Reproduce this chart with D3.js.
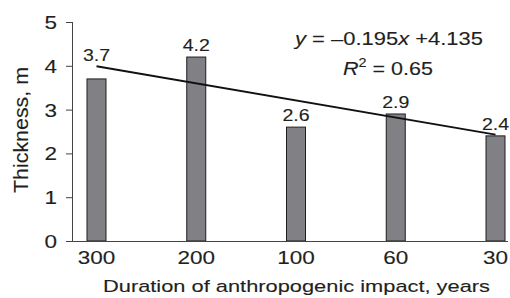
<!DOCTYPE html>
<html><head><meta charset="utf-8">
<script src="https://cdn.jsdelivr.net/npm/d3@7/dist/d3.min.js"></script>
<style>
html,body{margin:0;padding:0;background:#fff;}
svg{display:block;font-family:"Liberation Sans",Arial,Helvetica,sans-serif;}
svg text{stroke:#231f20;stroke-width:0.12px;}
</style></head>
<body><svg id="c" width="510" height="298"></svg>
<script>
const categories = ["300", "200", "100", "60", "30"];
const thickness = [3.7, 4.2, 2.6, 2.9, 2.4];
const valueLabels = ["3.7", "4.2", "2.6", "2.9", "2.4"];
const yTicks = [0, 1, 2, 3, 4, 5];
const trendValues = [3.99, 2.43]; // regression line at first and last category
const xTitle = "Duration of anthropogenic impact, years";
const yTitle = "Thickness, m";

const svg = d3.select("#c");
const ink = "#231f20";
const x = d3.scalePoint().domain(categories).range([96.5, 495.5]);
const y = d3.scaleLinear().domain([0, 5]).range([241, 22]);
const barW = 19;

function stretch(sel, factor) {
  sel.each(function () {
    const w = this.getComputedTextLength();
    d3.select(this).attr("textLength", w * factor).attr("lengthAdjust", "spacingAndGlyphs");
  });
}
function fitTo(sel, len) {
  sel.attr("textLength", len).attr("lengthAdjust", "spacingAndGlyphs");
}

// Y axis
const yAxis = svg.append("g").attr("transform", "translate(72,0)")
  .call(d3.axisLeft(y).tickValues(yTicks).tickSize(6).tickPadding(9).tickFormat(d3.format("d")));
yAxis.select(".domain").attr("stroke", "#444").attr("stroke-width", 1).attr("d", "M0.5," + y(5) + "V" + y(0));
yAxis.selectAll(".tick line").attr("stroke", "#444").attr("x1", 0.5).attr("x2", -6);
yAxis.selectAll(".tick text").attr("font-size", 18).attr("fill", ink)
  .attr("font-family", "Liberation Sans, Arial, sans-serif").attr("dy", "0.36em");
stretch(yAxis.selectAll(".tick text"), 1.25);

// Bars
svg.append("g").selectAll("rect").data(thickness).join("rect")
  .attr("x", (d, i) => x(categories[i]) - barW / 2)
  .attr("y", d => y(d))
  .attr("width", barW)
  .attr("height", d => y(0) - y(d))
  .attr("fill", "#808085")
  .attr("stroke", "#1e1e1e")
  .attr("stroke-width", 1);

// X axis baseline
svg.append("line").attr("x1", 72).attr("x2", 508).attr("y1", y(0) + 0.5).attr("y2", y(0) + 0.5)
  .attr("stroke", "#444").attr("stroke-width", 1);

// X tick labels
const xl = svg.append("g").selectAll("text").data(categories).join("text")
  .attr("x", d => x(d)).attr("y", 263.5).attr("text-anchor", "middle")
  .attr("font-size", 18).attr("fill", ink).text(d => d);
stretch(xl, 1.25);

// Trend line
const trendPts = [[categories[0], trendValues[0]], [categories[categories.length - 1], trendValues[1]]];
svg.append("path").datum(trendPts)
  .attr("d", d3.line().x(d => x(d[0])).y(d => y(d[1])))
  .attr("stroke", "#111").attr("stroke-width", 1.8).attr("fill", "none");

// Value labels: above the bar, unless the trend line is too close above the bar
const trendAt = i => y(trendValues[0] + (trendValues[1] - trendValues[0]) * i / (categories.length - 1));
const labelY = (d, i) => {
  const top = y(d), line = trendAt(i);
  if (top > line && top - line < 18) return line - 5;
  return top - 6;
};
const vl = svg.append("g").selectAll("text").data(thickness).join("text")
  .attr("x", (d, i) => x(categories[i]))
  .attr("y", labelY)
  .attr("text-anchor", "middle").attr("font-size", 17).attr("fill", ink)
  .text((d, i) => valueLabels[i]);
stretch(vl, 1.15);

// Equation
const eq = svg.append("text").attr("x", 295).attr("y", 44.5).attr("font-size", 18).attr("fill", ink);
eq.append("tspan").attr("font-style", "italic").text("y");
eq.append("tspan").text(" = –0.195");
eq.append("tspan").attr("font-style", "italic").text("x");
eq.append("tspan").text(" +4.135");
fitTo(eq, 188);

const r2 = svg.append("text").attr("x", 343).attr("y", 75).attr("font-size", 18).attr("fill", ink);
r2.append("tspan").attr("font-style", "italic").text("R");
r2.append("tspan").attr("font-size", 12).attr("dy", -8).text("2");
r2.append("tspan").attr("dy", 8).text(" = 0.65");
fitTo(r2, 90);

// Axis titles
const xt = svg.append("text").attr("x", 296.5).attr("y", 292).attr("text-anchor", "middle")
  .attr("font-size", 17).attr("fill", ink).text(xTitle);
fitTo(xt, 387);

const yt = svg.append("text").attr("transform", "translate(28,130) rotate(-90)")
  .attr("text-anchor", "middle").attr("font-size", 20).attr("fill", ink).text(yTitle);
fitTo(yt, 126);
</script>
</body></html>
